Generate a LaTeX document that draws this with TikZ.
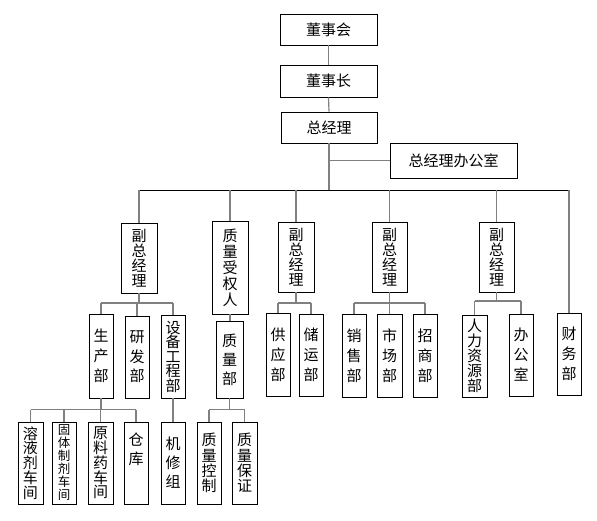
\documentclass[tikz,border=0pt]{standalone}
\usepackage{fontspec}
\newfontfamily\cjk{Noto Sans CJK SC}
\lineskiplimit=-100pt
\tikzset{
  orgbox/.style={draw, line width=0.8pt, inner sep=0pt, font=\cjk\fontsize{15}{18}\selectfont},
  vbox/.style={orgbox, align=center, font=\cjk\fontsize{15}{#1}\selectfont},
  vbox/.default=20,
  sz/.style 2 args={minimum width=#1pt, minimum height=#2pt},
  link/.style={draw=gray, line width=1.2pt},
  mainbus/.style={draw=black, line width=0.8pt},
}
\begin{document}
\begin{tikzpicture}[x=1pt,y=-1pt]
    \useasboundingbox (0,0) rectangle (597,521);
    % top
    \node[orgbox, sz={97}{31}]  (dsh) at (328.5,29.5) {董事会};
    \node[orgbox, sz={97}{32}]  (dsz) at (328.5,81)   {董事长};
    \node[orgbox, sz={96}{31}]  (zjl) at (329,127.5)  {总经理};
    \node[orgbox, sz={127}{35}] (zjb) at (453.5,160.5) {总经理办公室};
    % second row
    \node[vbox=15, sz={36}{70}] (fz1)  at (139,258)   {副\\总\\经\\理};
    \node[vbox=16, sz={36}{93}] (zlsq) at (230,267.5) {质\\量\\受\\权\\人};
    \node[vbox=15, sz={36}{70}] (fz2)  at (296,257)   {副\\总\\经\\理};
    \node[vbox=15, sz={35}{70}] (fz3)  at (389.5,257) {副\\总\\经\\理};
    \node[vbox=15, sz={35}{70}] (fz4)  at (496.5,257) {副\\总\\经\\理};
    \node[vbox, sz={24}{82}]    (cwb)  at (569,354)   {财\\务\\部};
    % third row
    \node[vbox, sz={24}{84}]      (scb)   at (101,356)   {生\\产\\部};
    \node[vbox=19.5, sz={24}{82}] (yfb)   at (137,357)   {研\\发\\部};
    \node[vbox=14.5, sz={24}{83}] (sbgcb) at (173,356.5) {设\\备\\工\\程\\部};
    \node[vbox=19, sz={27}{77}]   (zlb)   at (229.5,359.5) {质\\量\\部};
    \node[vbox, sz={24}{83}]      (gyb)   at (278,354.5) {供\\应\\部};
    \node[vbox, sz={24}{82}]      (cyb)   at (311,355)   {储\\运\\部};
    \node[vbox, sz={24}{83}]      (xsb)   at (354,355.5) {销\\售\\部};
    \node[vbox, sz={25}{83}]      (sczb)  at (389.5,355.5) {市\\场\\部};
    \node[vbox, sz={24}{83}]      (zsb)   at (425,355.5) {招\\商\\部};
    \node[vbox=15, sz={25}{82}]   (rlzyb) at (474.5,356) {人\\力\\资\\源\\部};
    \node[vbox, sz={24}{82}]      (bgs)   at (521,355)   {办\\公\\室};
    % fourth row
    \node[vbox=14.75, sz={25}{82}] (ryj)  at (30.5,463)  {溶\\液\\剂\\车\\间};
    \node[vbox, sz={24}{82}, font=\cjk\fontsize{12.5}{13}\selectfont]
                                   (gtzj) at (64,463)    {固\\体\\制\\剂\\车\\间};
    \node[vbox=14.75, sz={25}{82}] (yly)  at (100.5,463) {原\\料\\药\\车\\间};
    \node[vbox=19, sz={24}{82}]    (ck)   at (136,463)   {仓\\库\\[10pt]\mbox{}};
    \node[vbox=19, sz={24}{82}]    (jxz)  at (173,463)   {机\\修\\组};
    \node[vbox=15.3, sz={24}{82}]  (zlkz) at (209,463)   {质\\量\\控\\制};
    \node[vbox=15.3, sz={25}{82}]  (zlbz) at (244.5,463) {质\\量\\保\\证};
    % connectors
    \coordinate (bus) at (329,190);
    \draw[link] (dsh.south) -- (dsz.north);
    \draw[link] (dsz.south) -- (zjl.north);
    \draw[link] (zjl.south) -- (bus);
    \draw[link] (zjb.west) -- (zjb.west -| zjl.south);
    \draw[mainbus] (fz1.north |- bus) -- (cwb.north |- bus);
    \foreach \n in {fz1,zlsq,fz2,fz3,fz4,cwb}
        \draw[link] (\n.north |- bus) -- (\n.north);
    \draw[link] (zlsq.south) -- (zlsq.south |- zlb.north);
    \coordinate (b1) at (0,303);
    \draw[link] (fz1.south) -- (fz1.south |- b1);
    \draw[link] (scb.north |- b1) -- (sbgcb.north |- b1);
    \foreach \n in {scb,yfb,sbgcb}
        \draw[link] (\n.north |- b1) -- (\n.north);
    \draw[link] (fz2.south) -- (fz2.south |- b1);
    \draw[link] (gyb.north |- b1) -- (cyb.north |- b1);
    \foreach \n in {gyb,cyb}
        \draw[link] (\n.north |- b1) -- (\n.north);
    \draw[link] (fz3.south) -- (fz3.south |- b1);
    \draw[link] (xsb.north |- b1) -- (zsb.north |- b1);
    \foreach \n in {xsb,sczb,zsb}
        \draw[link] (\n.north |- b1) -- (\n.north);
    \coordinate (b2) at (0,301);
    \draw[link] (fz4.south) -- (fz4.south |- b2);
    \draw[link] (rlzyb.north |- b2) -- (bgs.north |- b2);
    \foreach \n in {rlzyb,bgs}
        \draw[link] (\n.north |- b2) -- (\n.north);
    \coordinate (b3) at (0,409.5);
    \draw[link] (scb.south) -- (scb.south |- b3);
    \draw[link] (ryj.north |- b3) -- (ck.north |- b3);
    \foreach \n in {ryj,gtzj,yly,ck}
        \draw[link] (\n.north |- b3) -- (\n.north);
    \draw[link] (sbgcb.south) -- (jxz.north);
    \draw[link] (zlb.south) -- (zlb.south |- b3);
    \draw[link] (zlkz.north |- b3) -- (zlbz.north |- b3);
    \foreach \n in {zlkz,zlbz}
        \draw[link] (\n.north |- b3) -- (\n.north);
\end{tikzpicture}
\end{document}
